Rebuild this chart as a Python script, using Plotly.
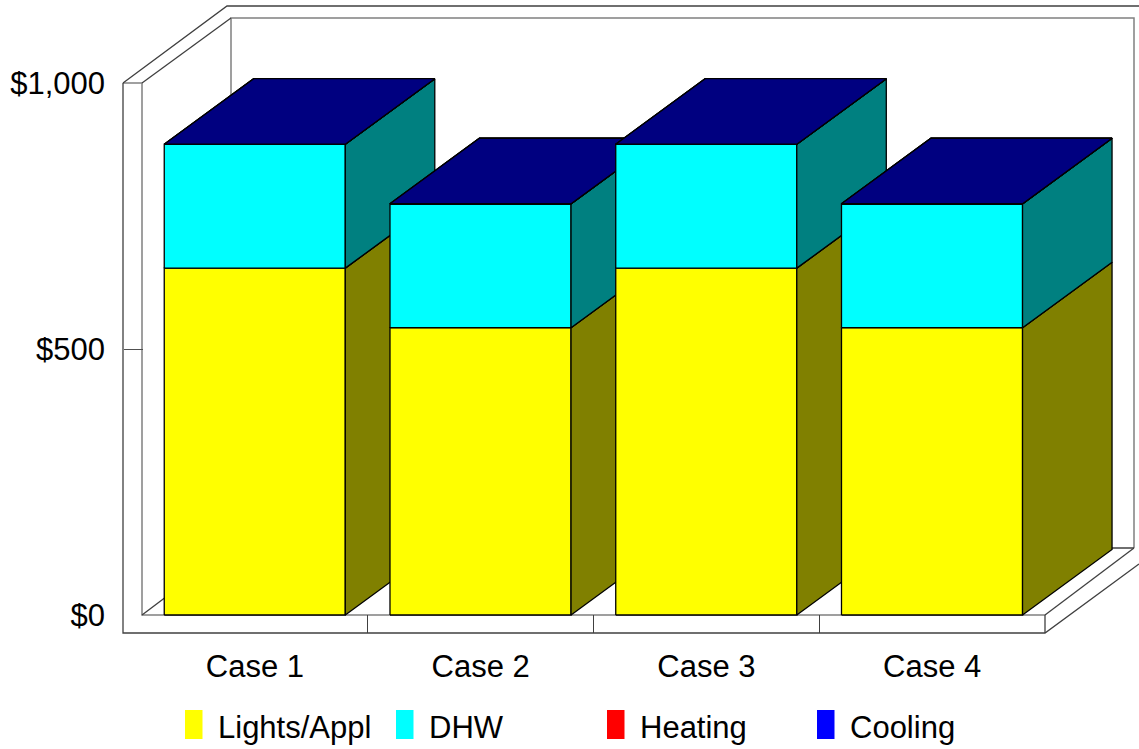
import plotly.graph_objects as go

# ---- data ----
cases = ["Case 1", "Case 2", "Case 3", "Case 4"]
lights = [652, 540, 652, 540]
dhw = [233, 233, 233, 233]
heating = [0, 0, 0, 0]
cooling = [0, 0, 0, 0]
series_names = ["Lights/Appl", "DHW", "Heating", "Cooling"]
y_ticks = [0, 500, 1000]
y_labels = ["$0", "$500", "$1,000"]

# ---- styles ----
front = ["#ffff00", "#00ffff", "#ff0000", "#0000ff"]
dark = ["#808000", "#008080", "#800000", "#000080"]
W, H = 1139, 749
PX_X0, PX_CAT = 142.0, 225.75      # pixel of category 0, pixels per category
PX_Y0, PX_VAL = 615.0, 0.532       # pixel of value 0, pixels per dollar
FONT = "Liberation Sans, Arial, sans-serif"
FS = 31

BAR_OFF, BAR_W = 0.0985, 0.802
DEPTH_X, DEPTH_Y = 89.5 / PX_CAT, 65.5 / PX_VAL
WX, WY = 19 / PX_CAT, 18 / PX_VAL

fig = go.Figure()

def poly(xs, ys, fill, name):
    fig.add_trace(go.Scatter(x=xs + xs[:1], y=ys + ys[:1], mode="lines", fill="toself",
                             fillcolor=fill, line=dict(color="#000000", width=1.3),
                             name=name, showlegend=False, hoverinfo="skip"))

def seg(pts, color, width):
    xs, ys = [], []
    for a in pts:
        for p in a:
            xs.append(p[0]); ys.append(p[1])
        xs.append(None); ys.append(None)
    fig.add_trace(go.Scatter(x=xs, y=ys, mode="lines", line=dict(color=color, width=width),
                             showlegend=False, hoverinfo="skip"))

n = len(cases)
top = y_ticks[-1]
BX, BYT, BYB = 89 / PX_CAT, 65 / PX_VAL, 67 / PX_VAL
# grey inner edges of the box
seg([
    [(BX, BYB), (BX, top + BYT), (n + BX, top + BYT), (n + BX, BYB)],
    [(0, top), (0, 0), (n, 0)],
    [(-WX, top), (0, top)],
], "#808080", 1.5)
# dark outline of the box
seg([
    [(-WX, top), (-WX + 104 / PX_CAT, top + 77 / PX_VAL), (n + 1, top + 77 / PX_VAL)],
    [(0, top), (BX, top + BYT)],
    [(0, 0), (BX, BYB), (n + BX, BYB)],
    [(n, 0), (n + BX, BYB)],
    [(-WX, top), (-WX, -WY), (n, -WY), (n + 94 / PX_CAT, -WY + 69 / PX_VAL)],
    [(n, -WY), (n, 0)],
], "#404040", 1.3)

stacks = [lights, dhw, heating, cooling]
for c in range(n):
    base = 0
    l = c + BAR_OFF
    r = l + BAR_W
    for s, vals in enumerate(stacks):
        t = base + vals[c]
        poly([l, r, r, l], [base, base, t, t], front[s], series_names[s])
        poly([r, r + DEPTH_X, r + DEPTH_X, r], [base, base + DEPTH_Y, t + DEPTH_Y, t], dark[s], series_names[s])
        poly([l, r, r + DEPTH_X, l + DEPTH_X], [t, t, t + DEPTH_Y, t + DEPTH_Y], dark[s], series_names[s])
        base = t

# legend
shapes, annos = [], []
leg_x = [185, 396, 607, 817]
for i, nm in enumerate(series_names):
    shapes.append(dict(type="rect", xref="paper", yref="paper", layer="above",
                       x0=leg_x[i] / W, x1=(leg_x[i] + 17.5) / W,
                       y0=1 - 739 / H, y1=1 - 710 / H, fillcolor=front[i], line=dict(width=0)))
    annos.append(dict(xref="paper", yref="paper", x=(leg_x[i] + 30.5) / W, y=1 - 727.5 / H,
                      xanchor="left", yanchor="middle", text=nm, showarrow=False,
                      font=dict(family=FONT, size=FS, color="#000000")))

fig.update_layout(
    width=W, height=H, autosize=False, margin=dict(l=0, r=0, t=0, b=0),
    paper_bgcolor="#ffffff", plot_bgcolor="#ffffff", showlegend=False,
    font=dict(family=FONT, size=FS, color="#000000"),
    shapes=shapes, annotations=annos,
    xaxis=dict(range=[-PX_X0 / PX_CAT, (W - PX_X0) / PX_CAT], domain=[0, 1], anchor="free",
               position=1 - 633 / H, showgrid=False, zeroline=False, showline=False,
               tickmode="array", tickvals=[i + 0.5 for i in range(n)], ticktext=cases,
               ticks="", ticklabelstandoff=12,
               minor=dict(tickmode="array", tickvals=list(range(1, n)), ticks="inside",
                          ticklen=18, tickcolor="#404040", tickwidth=1.3, showgrid=False)),
    yaxis=dict(range=[(PX_Y0 - H) / PX_VAL, PX_Y0 / PX_VAL], domain=[0, 1], anchor="free",
               position=123 / W, showgrid=False, zeroline=False, showline=False,
               tickmode="array", tickvals=y_ticks, ticktext=y_labels,
               ticks="", ticklabelstandoff=18,
               minor=dict(tickmode="array", tickvals=y_ticks[1:2], ticks="inside",
                          ticklen=19, tickcolor="#505050", tickwidth=1.3, showgrid=False)),
)

fig.write_html("out.html", config=dict(displayModeBar=False),
               post_script="document.body.style.margin='0';document.body.style.overflow='hidden';")
